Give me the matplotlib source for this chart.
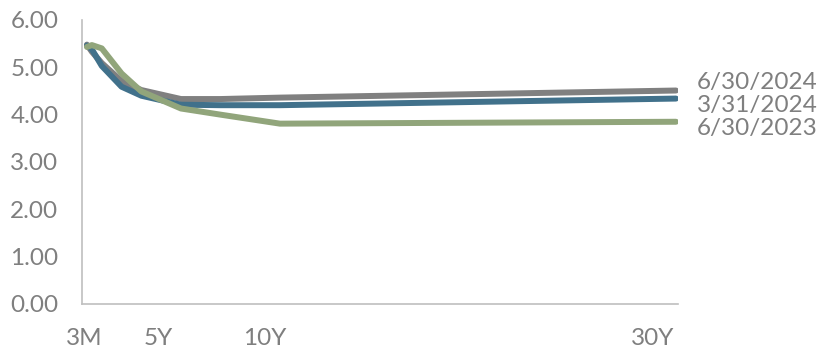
import numpy as np
import matplotlib
matplotlib.use("Agg")
import matplotlib.pyplot as plt
from matplotlib.transforms import ScaledTranslation

# Treasury yield curves (maturity in years, yield in %)
maturities = [0.25, 0.5, 1, 2, 3, 5, 7, 10, 30]
curve_jun24 = [5.48, 5.33, 5.09, 4.71, 4.52, 4.33, 4.33, 4.36, 4.51]
curve_mar24 = [5.46, 5.38, 5.03, 4.59, 4.40, 4.21, 4.20, 4.20, 4.34]
curve_jun23 = [5.43, 5.47, 5.40, 4.87, 4.49, 4.13, 4.00, 3.81, 3.85]
series_labels = ["6/30/2024", "3/31/2024", "6/30/2023"]
series_colors = ["#808080", "#41718b", "#91a57b"]

tick_pos = [0.25, 5, 10, 30]
tick_labels = ["3M", "5Y", "10Y", "30Y"]
tick_shift_px = [-3, -23, -15, -23]

plt.rcParams["font.family"] = ["Lato", "DejaVu Sans"]
text_color = "#7f7f7f"
fs = 17.5

fig = plt.figure(figsize=(8.33, 3.52), dpi=100)
ax = fig.add_axes([0.0984, 0.1364, 0.7155, 0.8068])

curves = [curve_jun24, curve_mar24, curve_jun23]
for vals, col in zip(curves, series_colors):
    ax.plot(maturities, vals, color=col, lw=4.3, solid_capstyle="round",
            solid_joinstyle="round")

# end-of-line labels
label_y = [4.67, 4.19, 3.70]
for y, lab in zip(label_y, series_labels):
    ax.text(31.05, y, lab, fontsize=fs, color=text_color, va="center",
            ha="left", clip_on=False)

ax.set_xlim(0, 30.1)
ax.set_ylim(0, 6)
ax.set_yticks(np.arange(0, 7, 1))
ax.set_yticklabels([f"{v:.2f}" for v in range(7)])
ax.set_xticks(tick_pos)
ax.set_xticklabels(tick_labels)
ax.tick_params(axis="both", length=0, labelsize=fs, labelcolor=text_color)
ax.tick_params(axis="y", pad=17)
ax.tick_params(axis="x", pad=17)

for lbl, dx in zip(ax.get_xticklabels(), tick_shift_px):
    lbl.set_transform(lbl.get_transform() +
                      ScaledTranslation(dx / 100, 0, fig.dpi_scale_trans))

for side in ["top", "right"]:
    ax.spines[side].set_visible(False)
for side in ["left", "bottom"]:
    ax.spines[side].set_color("#bfbfbf")
    ax.spines[side].set_linewidth(1.2)

fig.savefig("out.png", dpi=100)
